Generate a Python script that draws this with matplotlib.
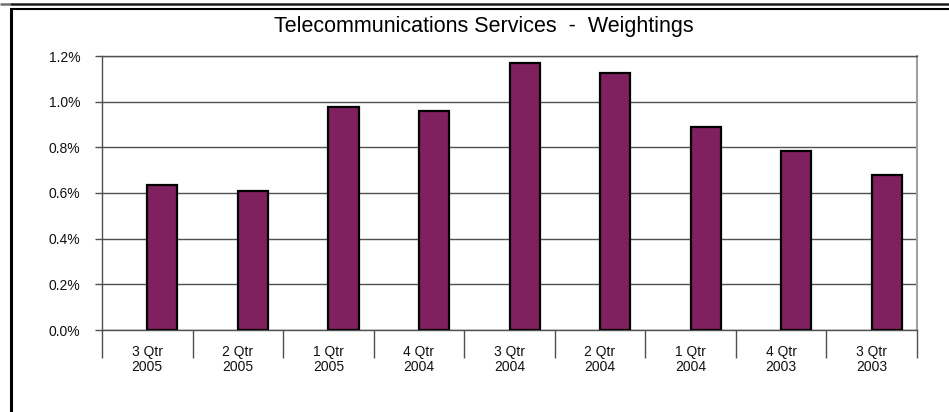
import matplotlib
matplotlib.use("Agg")
import matplotlib.pyplot as plt
from matplotlib.lines import Line2D
import numpy as np

plt.rcParams['font.family'] = ['Liberation Sans', 'DejaVu Sans']

title = "Telecommunications Services  -  Weightings"
categories = ["3 Qtr\n2005", "2 Qtr\n2005", "1 Qtr\n2005", "4 Qtr\n2004", "3 Qtr\n2004",
              "2 Qtr\n2004", "1 Qtr\n2004", "4 Qtr\n2003", "3 Qtr\n2003"]
weights = [0.635, 0.61, 0.977, 0.958, 1.170, 1.126, 0.891, 0.785, 0.678]
yticks = [0.0, 0.2, 0.4, 0.6, 0.8, 1.0, 1.2]

W, H = 949, 412
fig = plt.figure(figsize=(W / 100, H / 100), dpi=100)

# axes placement in pixel coordinates
L, R, T, B = 102, 917, 56, 330
ax = fig.add_axes([L / W, 1 - B / H, (R - L) / W, (B - T) / H])

x = np.arange(len(categories))
ax.bar(x, weights, width=1 / 3, align='edge', color='#80205F',
       edgecolor='black', linewidth=1.6, zorder=3)

ax.set_xlim(-0.5, len(categories) - 0.5)
ax.set_ylim(0, 1.2)
ax.set_yticks(yticks)
ax.set_yticklabels([f"{v:.1f}%" for v in yticks])
ax.yaxis.grid(True, color='#505050', linewidth=1.0, zorder=0)
ax.tick_params(axis='y', length=5, width=1.0, color='#505050', pad=10.5,
               labelsize=10, labelcolor='#111111')

ax.set_xticks(x)
ax.set_xticklabels(categories, fontsize=10, linespacing=1.05, color='#111111')
ax.tick_params(axis='x', which='major', length=0, pad=11)
ax.set_xticks(np.arange(len(categories) + 1) - 0.5, minor=True)
ax.tick_params(axis='x', which='minor', length=20, width=1.0, color='#505050')

for s in ['left', 'bottom', 'top']:
    ax.spines[s].set_color('#505050')
    ax.spines[s].set_linewidth(1.0)
ax.spines['right'].set_color('#a0a0a0')
ax.spines['right'].set_linewidth(1.5)

fig.text(483.5 / W, 1 - 32 / H, title, ha='center', va='baseline', fontsize=15.5)

# outer frame lines
def px_line(x0, y0, x1, y1, lw, color):
    fig.add_artist(Line2D([x0 / W, x1 / W], [1 - y0 / H, 1 - y1 / H],
                          transform=fig.transFigure, color=color, linewidth=lw,
                          solid_capstyle='butt'))

px_line(0, 4, 10, 4, 1.8, '#707070')
px_line(10, 4, W, 4, 1.8, '#1a1a1a')
px_line(10, 9, W, 9, 1.5, 'black')
px_line(11, 8, 11, H, 2.2, 'black')

fig.savefig("out.png", dpi=100)
